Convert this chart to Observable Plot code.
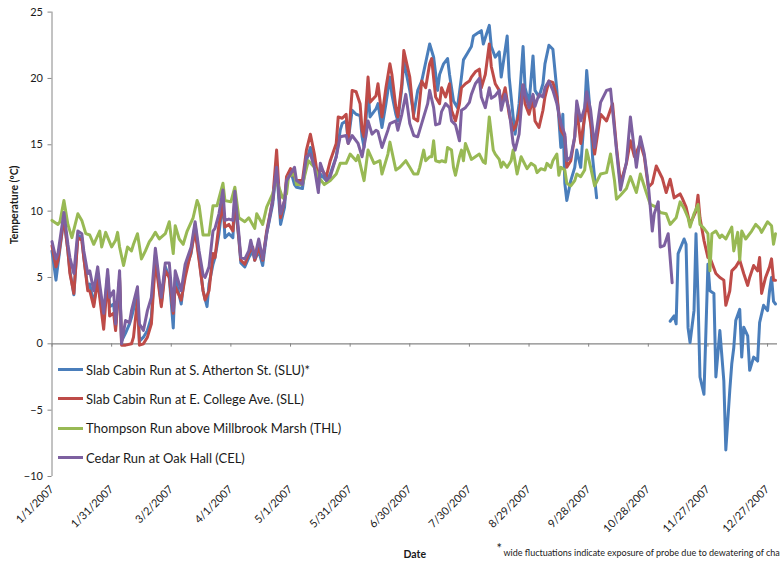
<!DOCTYPE html>
<html>
<head>
<meta charset="utf-8">
<script src="https://cdn.jsdelivr.net/npm/d3@7"></script>
<script src="https://cdn.jsdelivr.net/npm/@observablehq/plot@0.6"></script>
<style>
  html, body { margin: 0; padding: 0; background: #fff; }
  #wrap { position: relative; width: 780px; height: 562px; overflow: hidden; font-family: Lato, "Open Sans", sans-serif; }
  #legend { position: absolute; left: 58px; top: 355px; }
  .lg { display: flex; align-items: center; height: 29.3px; font-size: 13px; color: #1a1a1a; white-space: nowrap; }
  .lg span.sw { display: inline-block; width: 25px; height: 3px; margin-right: 3px; }
</style>
</head>
<body>
<div id="wrap"></div>
<script>
// ---- data ----
const seriesNames = [
  "Slab Cabin Run at S. Atherton St. (SLU)*",
  "Slab Cabin Run at E. College Ave. (SLL)",
  "Thompson Run above Millbrook Marsh (THL)",
  "Cedar Run at Oak Hall (CEL)"
];
const seriesColors = ["#4A7EBB", "#BE4B48", "#98B954", "#7D60A0"];
const xTickLabels = ["1/1/2007","1/31/2007","3/2/2007","4/1/2007","5/1/2007","5/31/2007","6/30/2007","7/30/2007","8/29/2007","9/28/2007","10/28/2007","11/27/2007","12/27/2007"];
const yTicks = [-10, -5, 0, 5, 10, 15, 20, 25];

// [day of year (0 = Jan 1, 2007), temperature °C]; null = no data
const SLU = [[0,7.0],[2,4.8],[3,6.0],[6,9.5],[8,7.0],[9,5.5],[11,3.7],[13,8.2],[15,8.0],[16,6.5],[18,4.2],[19,4.5],[21,3.0],[23,5.0],[24,3.8],[26,2.0],[28,5.2],[29,2.8],[31,3.0],[32,1.3],[34,4.8],[35,0.2],[37,0.8],[39,1.5],[40,2.0],[43,3.8],[44,0.2],[46,0.5],[48,1.0],[50,2.0],[52,6.7],[55,3.0],[57,5.8],[59,5.0],[61,1.2],[62,5.0],[65,3.0],[67,5.5],[70,6.8],[72,9.0],[74,6.5],[76,4.0],[78,2.8],[79,4.5],[81,6.0],[82,6.5],[84,8.3],[86,10.8],[87,8.0],[89,8.3],[91,8.0],[92,10.8],[94,7.9],[95,6.1],[97,5.8],[99,6.5],[101,7.0],[102,6.3],[104,7.0],[106,5.9],[108,8.3],[111,10.5],[113,13.3],[115,9.0],[117,10.3],[118,12.3],[120,13.1],[122,12.0],[123,11.8],[126,11.7],[128,13.8],[130,14.8],[132,13.6],[134,11.8],[135,12.8],[138,12.3],[140,12.8],[143,14.1],[145,16.1],[146,16.6],[148,16.8],[149,15.3],[151,17.6],[153,17.3],[155,17.2],[156,15.6],[157,14.8],[159,19.1],[160,17.1],[163,17.7],[164,18.1],[166,16.3],[168,18.1],[170,20.1],[171,18.8],[173,17.3],[174,16.8],[176,19.3],[177,21.3],[180,19.1],[182,17.3],[184,19.1],[186,19.8],[189,21.9],[190,22.6],[192,21.6],[194,19.1],[195,20.3],[197,21.1],[199,21.5],[200,20.3],[202,18.3],[204,17.8],[206,20.1],[207,21.4],[209,21.9],[211,22.4],[212,23.2],[214,23.4],[216,23.6],[217,22.6],[220,24.0],[221,22.4],[223,21.6],[225,22.0],[226,20.1],[229,23.2],[230,20.1],[232,17.1],[233,15.8],[235,18.1],[237,22.4],[238,19.3],[240,18.1],[242,21.7],[243,19.1],[245,18.6],[247,19.6],[248,21.1],[250,22.5],[252,22.2],[254,19.1],[256,14.8],[257,17.3],[258,12.1],[259,10.8],[261,12.3],[263,13.3],[264,14.6],[266,13.3],[268,17.6],[269,20.6],[271,17.0],[272,14.0],[274,11.0],[275,null],
  [311,1.7],[313,2.1],[314,1.5],[315,6.8],[318,7.9],[319,7.5],[320,1.2],[321,0.1],[323,2.5],[324,8.3],[325,3.5],[326,-2.5],[328,-3.8],[329,1.0],[330,6.0],[331,4.0],[333,3.8],[334,-2.5],[336,1.0],[338,-2.8],[339,-8.0],[341,-3.5],[342,-1.5],[343,-0.3],[344,1.75],[346,2.6],[347,-1.0],[348,1.25],[350,0.6],[351,-2.0],[353,-1.0],[355,-1.3],[356,1.6],[358,2.9],[360,2.5],[361,4.0],[362,5.0],[363,3.2],[364,3.0]];

const SLL = [[0,7.4],[2,5.8],[3,6.3],[6,9.5],[8,7.0],[9,5.3],[11,3.8],[13,8.0],[15,7.8],[16,6.5],[18,4.0],[19,4.0],[21,2.8],[23,4.8],[24,3.5],[26,1.1],[28,5.0],[29,2.1],[31,2.3],[32,1.0],[34,5.0],[35,-0.1],[37,-0.1],[40,0.0],[41,0.5],[43,3.3],[44,-0.1],[46,0.0],[48,0.5],[50,1.5],[52,6.3],[55,2.8],[57,5.5],[59,5.0],[61,2.3],[62,4.3],[65,3.3],[67,5.0],[70,7.0],[72,8.5],[74,6.3],[76,4.0],[77,3.3],[79,4.0],[81,6.8],[82,6.5],[84,9.0],[86,10.5],[87,8.8],[89,9.0],[91,8.5],[92,11.0],[94,8.0],[95,6.3],[97,6.0],[99,6.8],[101,7.3],[102,6.3],[104,7.3],[106,6.3],[108,8.5],[111,10.8],[113,14.6],[115,9.5],[117,10.8],[118,12.6],[120,13.2],[122,12.6],[123,12.3],[126,12.3],[128,14.6],[130,15.8],[132,14.3],[134,12.3],[135,13.3],[138,12.6],[140,13.8],[143,15.1],[144,17.1],[146,17.0],[148,17.3],[149,15.1],[151,19.1],[153,19.0],[155,18.1],[156,16.1],[157,15.6],[159,20.1],[160,18.2],[163,18.7],[164,19.6],[166,17.1],[168,19.3],[170,21.1],[171,20.3],[173,17.8],[174,17.1],[176,19.6],[177,22.1],[180,20.1],[182,17.0],[184,16.8],[186,19.8],[188,19.3],[190,21.1],[191,21.5],[193,18.6],[195,18.1],[196,19.3],[198,18.6],[200,19.6],[201,17.6],[203,16.8],[205,18.1],[206,19.3],[208,19.6],[210,19.8],[211,20.1],[213,20.5],[215,20.7],[216,19.3],[218,20.3],[220,22.6],[221,20.9],[223,19.6],[225,19.1],[226,18.1],[228,19.3],[230,17.3],[232,16.1],[233,16.3],[235,17.3],[237,19.5],[238,18.1],[240,17.3],[242,18.5],[243,16.8],[245,16.3],[247,17.6],[248,18.6],[250,19.8],[252,19.7],[254,18.6],[256,16.1],[258,15.6],[259,13.3],[261,13.8],[263,15.6],[264,17.8],[266,15.1],[268,17.1],[269,18.3],[271,16.6],[273,14.3],[274,15.3],[276,17.3],[279,16.8],[282,18.1],[284,14.8],[286,12.1],[289,13.6],[291,15.3],[293,14.1],[296,15.1],[298,14.1],[300,11.8],[302,12.1],[304,13.4],[307,12.5],[309,11.4],[311,12.4],[313,11.0],[316,11.3],[317,11.0],[319,10.3],[321,9.0],[324,10.0],[325,11.2],[326,9.5],[328,7.8],[330,6.5],[331,6.5],[334,5.3],[336,5.0],[338,4.8],[339,2.9],[341,4.0],[342,5.5],[344,5.8],[346,6.3],[348,5.3],[350,4.4],[351,5.0],[353,5.9],[355,5.5],[356,6.5],[357,3.8],[359,5.0],[361,5.8],[362,6.4],[363,4.8],[364,4.8]];

const THL = [[0,9.3],[3,9.0],[4,9.2],[6,10.8],[8,9.0],[10,8.0],[13,9.8],[15,9.3],[17,8.3],[19,8.2],[21,7.5],[24,8.5],[25,7.3],[27,8.4],[30,7.3],[32,7.8],[33,8.4],[34,7.3],[36,5.9],[38,7.3],[40,7.0],[41,7.5],[43,8.3],[45,6.4],[47,7.0],[49,7.7],[50,7.9],[52,8.4],[54,7.9],[57,8.3],[59,9.2],[61,6.8],[62,8.9],[64,7.9],[66,7.5],[68,8.5],[71,9.5],[73,10.8],[74,10.4],[76,8.2],[79,8.2],[81,10.4],[83,10.4],[86,12.1],[87,10.8],[90,10.7],[92,11.8],[94,9.5],[97,9.2],[99,9.5],[102,8.7],[103,9.8],[106,9.0],[108,10.3],[111,11.3],[113,12.3],[116,11.0],[118,11.3],[119,12.6],[122,12.8],[123,12.0],[126,12.0],[129,13.8],[132,13.3],[134,12.6],[137,12.0],[140,12.3],[143,12.8],[145,13.6],[148,13.6],[150,14.3],[153,13.8],[154,14.2],[157,12.3],[159,14.6],[162,13.6],[165,13.8],[166,12.8],[169,14.3],[170,15.2],[173,13.1],[175,13.3],[178,13.8],[180,13.3],[182,12.8],[184,12.8],[185,13.3],[187,14.6],[188,13.8],[190,14.1],[191,14.1],[192,15.3],[193,13.8],[195,13.7],[196,13.8],[198,13.7],[199,14.8],[201,14.6],[202,13.3],[203,12.7],[205,14.1],[206,14.6],[207,13.8],[208,15.1],[210,14.3],[211,13.9],[213,14.1],[215,14.3],[217,13.7],[218,13.6],[220,17.1],[222,14.6],[223,14.3],[225,13.9],[226,13.3],[227,13.7],[229,13.3],[231,13.8],[232,14.6],[234,12.8],[236,14.1],[237,13.8],[239,13.2],[241,13.6],[243,13.4],[244,12.9],[246,13.2],[248,13.1],[249,13.6],[251,13.3],[252,13.8],[254,14.3],[255,12.7],[256,13.3],[258,13.1],[259,12.1],[261,11.9],[263,12.3],[264,12.8],[266,12.6],[268,13.1],[269,14.6],[271,13.3],[273,11.9],[276,12.8],[279,12.9],[281,14.3],[283,12.3],[284,10.9],[286,11.2],[289,11.7],[291,12.6],[294,11.4],[296,12.8],[299,11.4],[301,10.5],[304,10.3],[306,9.9],[309,9.8],[311,9.0],[314,9.5],[316,10.7],[318,10.2],[320,9.5],[321,8.8],[323,9.8],[325,10.5],[326,9.0],[328,8.7],[330,8.3],[331,5.5],[332,8.3],[334,8.5],[336,8.0],[337,8.2],[339,7.9],[342,8.8],[343,7.0],[345,8.4],[346,6.3],[347,8.5],[349,7.9],[352,8.5],[354,9.0],[356,8.7],[357,8.4],[360,9.2],[362,8.9],[363,7.5],[364,8.3]];

const CEL = [[0,7.7],[2,6.4],[3,6.8],[6,9.9],[8,7.5],[9,6.5],[11,5.3],[13,8.5],[15,8.3],[16,7.0],[18,5.3],[19,5.5],[21,4.0],[23,5.8],[24,4.5],[26,2.3],[28,5.6],[29,3.5],[31,4.0],[32,1.5],[34,5.5],[35,0.0],[37,1.75],[39,1.6],[40,2.5],[43,4.3],[44,1.5],[46,1.0],[48,2.5],[50,3.5],[52,7.2],[55,3.5],[57,6.1],[59,6.1],[61,2.5],[62,5.5],[65,4.0],[67,6.0],[70,7.3],[72,9.2],[74,7.0],[76,5.2],[77,5.0],[79,5.8],[81,8.5],[82,8.7],[84,9.8],[86,11.6],[87,9.3],[89,9.4],[91,9.3],[92,11.5],[94,8.3],[95,6.5],[97,6.4],[99,7.0],[100,7.8],[102,6.5],[104,7.9],[106,6.4],[108,8.3],[111,10.8],[113,13.3],[115,9.8],[117,10.8],[118,12.3],[120,12.8],[122,13.3],[123,12.3],[126,12.0],[128,14.1],[130,14.3],[132,13.3],[134,11.4],[135,13.6],[138,12.3],[140,12.6],[143,14.1],[145,15.6],[148,15.7],[149,15.1],[151,15.7],[154,15.1],[156,14.1],[158,15.7],[159,16.8],[161,15.8],[163,16.1],[164,16.0],[166,14.8],[169,16.1],[170,16.6],[173,16.8],[174,16.1],[176,17.3],[178,18.8],[180,16.6],[182,15.7],[184,15.6],[185,16.1],[187,17.1],[189,18.1],[190,19.1],[192,17.8],[193,16.5],[195,16.6],[196,17.5],[198,18.1],[200,17.8],[201,16.8],[203,16.5],[205,15.3],[206,17.6],[208,17.8],[210,18.2],[211,18.8],[213,19.6],[215,20.0],[216,18.6],[218,17.8],[220,19.3],[221,18.5],[223,18.7],[225,19.1],[226,17.6],[228,18.8],[230,17.6],[232,15.1],[233,14.6],[235,15.8],[237,19.5],[238,18.8],[240,17.8],[242,18.8],[243,17.9],[245,18.8],[247,18.6],[248,19.3],[250,19.8],[252,19.1],[254,18.1],[256,16.6],[258,15.8],[259,13.8],[261,14.1],[263,15.6],[264,18.3],[266,16.8],[268,17.8],[269,19.0],[271,17.6],[273,14.8],[274,16.1],[276,18.2],[279,19.1],[281,19.2],[284,14.6],[286,11.6],[289,13.7],[291,17.1],[294,13.3],[296,15.6],[298,14.3],[300,12.0],[301,10.3],[302,8.5],[303,9.8],[305,10.7],[306,7.3],[308,7.4],[310,8.3],[312,4.6]];

const seriesData = [SLU, SLL, THL, CEL];
const footnote = "wide fluctuations indicate exposure of probe due to dewatering of channel";

// ---- build table ----
const parseTick = d3.utcParse("%m/%d/%Y");
const tickDates = xTickLabels.map(parseTick);
const dayToDate = d => new Date(Date.UTC(2007, 0, 1 + d));
const rows = [];
seriesData.forEach((arr, i) => arr.forEach(([d, v]) => rows.push({series: seriesNames[i], date: dayToDate(d), temp: v})));

const axisGray = "#868686";
const x0 = dayToDate(0), x1 = dayToDate(365);

const chart = Plot.plot({
  width: 780,
  height: 562,
  marginLeft: 51.5,
  marginRight: 3,
  marginTop: 11.6,
  marginBottom: 86,
  style: {fontFamily: "Lato, 'Open Sans', sans-serif", fontSize: "11px", color: "#1a1a1a", background: "#fff", overflow: "hidden"},
  x: {type: "utc", domain: [x0, x1]},
  y: {domain: [-10, 25]},
  color: {domain: seriesNames, range: seriesColors},
  marks: [
    // axis lines
    Plot.ruleX([x0], {stroke: axisGray, strokeWidth: 1}),
    Plot.ruleY([0], {stroke: axisGray, strokeWidth: 1.2}),
    Plot.axisY({ticks: yTicks, tickSize: 4, tickPadding: 5, label: null, fontSize: 11, stroke: axisGray, fill: "#1a1a1a"}),
    Plot.axisX({ticks: tickDates, tickFormat: d3.utcFormat("%-m/%-d/%Y"), tickRotate: -45, tickSize: 0, tickPadding: 11, label: null, fontSize: 11, fill: "#1a1a1a"}),
    Plot.ruleX(tickDates, {x: d => d, y1: 0, y2: -0.25, stroke: axisGray}),
    // series
    Plot.line(rows, {x: "date", y: "temp", z: "series", stroke: "series", strokeWidth: 3, strokeLinejoin: "round", strokeLinecap: "round", curve: "linear"}),
    // axis titles & footnote
    Plot.text(["Temperature (ºC)"], {frameAnchor: "left", dx: -37, rotate: -90, text: d => d, fontWeight: "bold", fontSize: 10.5}),
    Plot.text(["Date"], {frameAnchor: "bottom", dy: 81, text: d => d, fontWeight: "bold", fontSize: 10.5}),
    Plot.text(["*"], {frameAnchor: "bottom-right", textAnchor: "start", dx: -281, dy: 76, text: d => d, fontSize: 13}),
    Plot.text([footnote], {frameAnchor: "bottom-right", textAnchor: "start", dx: -274, dy: 79, text: d => d, fontSize: 9})
  ]
});

const wrap = document.getElementById("wrap");
wrap.appendChild(chart);

// legend (inside plot area, as in the reference)
const legend = document.createElement("div");
legend.id = "legend";
seriesNames.forEach((name, i) => {
  const row = document.createElement("div");
  row.className = "lg";
  const sw = document.createElement("span");
  sw.className = "sw";
  sw.style.background = seriesColors[i];
  row.appendChild(sw);
  row.appendChild(document.createTextNode(name));
  legend.appendChild(row);
});
wrap.appendChild(legend);
</script>
</body>
</html>
